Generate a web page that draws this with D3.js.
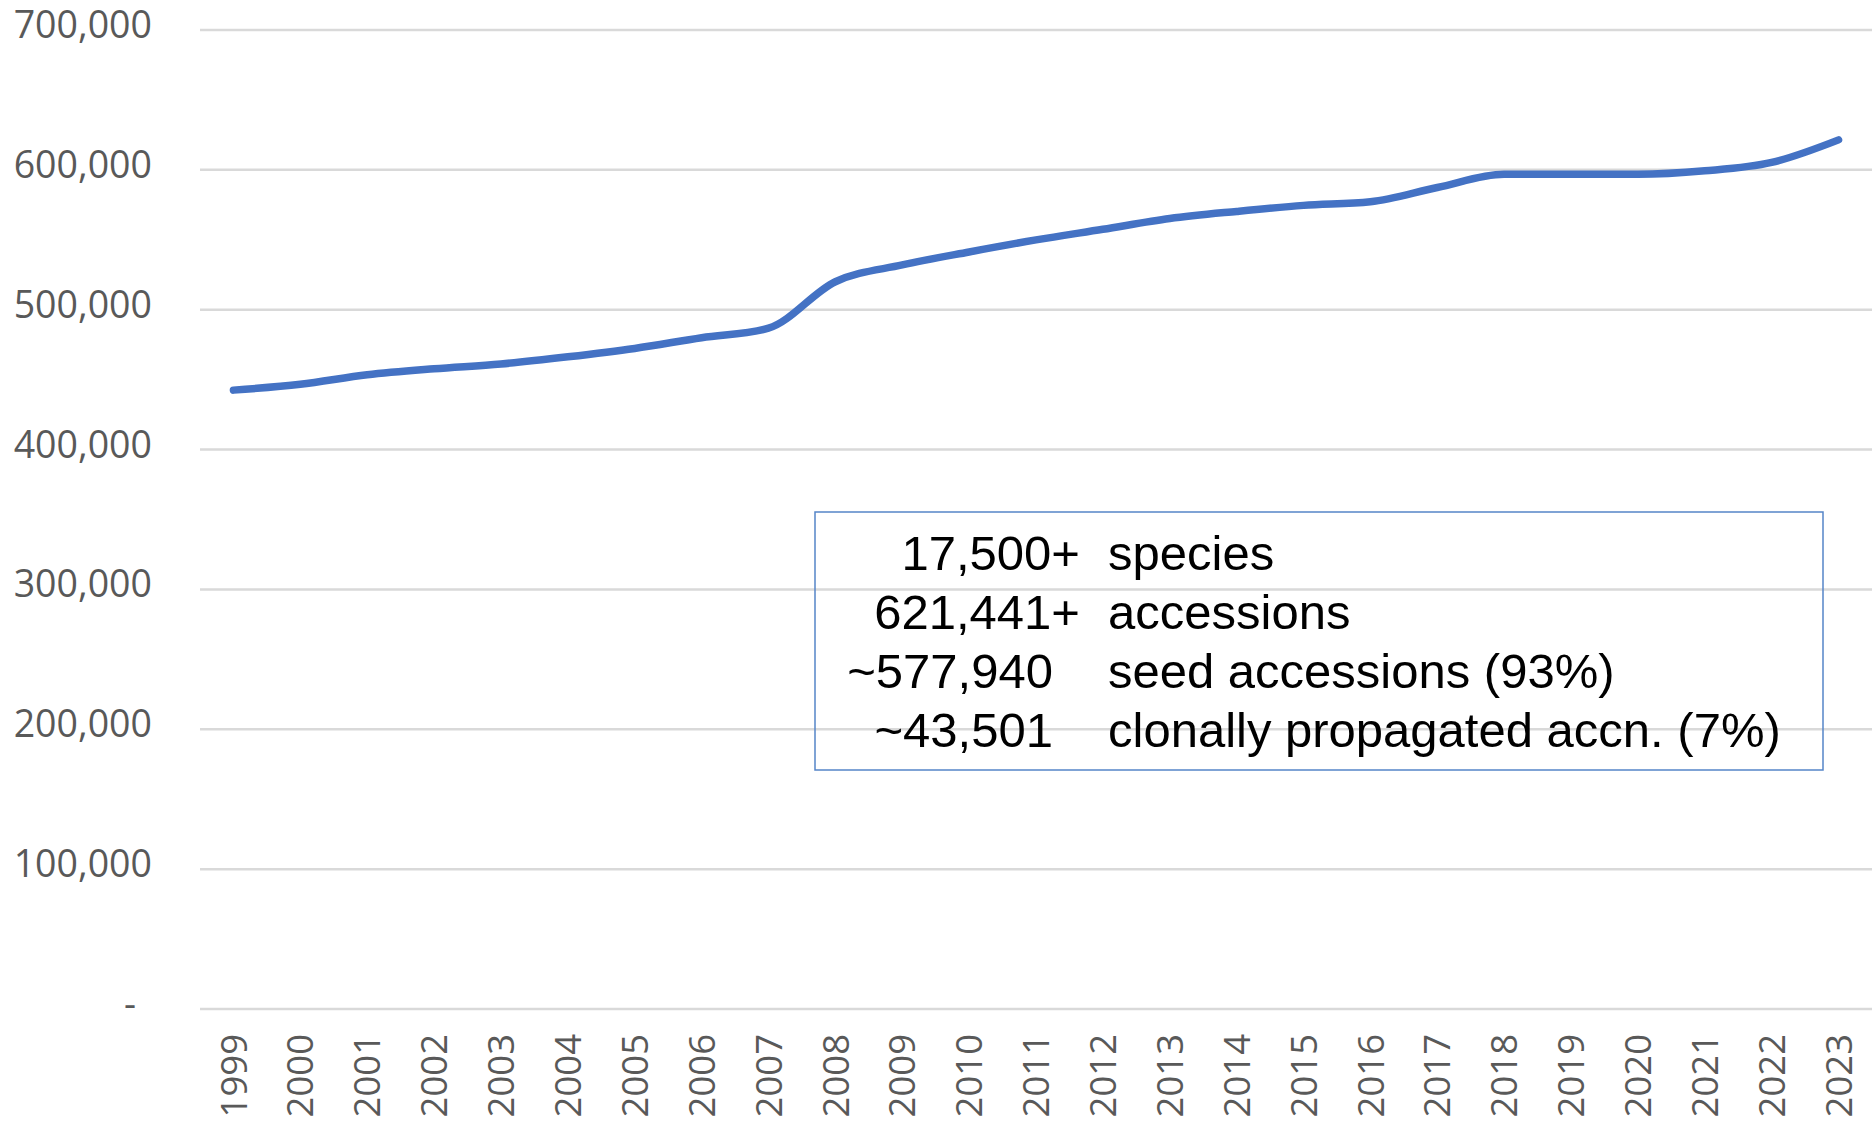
<!DOCTYPE html>
<html>
<head>
<meta charset="utf-8">
<script src="https://cdn.jsdelivr.net/npm/d3@7"></script>
<style>
  html, body { margin: 0; padding: 0; background: #ffffff; }
  svg { display: block; }
</style>
</head>
<body>
<svg id="chart" width="1872" height="1124"></svg>
<script>
// ---- data ----
const years = ["1999","2000","2001","2002","2003","2004","2005","2006","2007","2008","2009","2010","2011","2012","2013","2014","2015","2016","2017","2018","2019","2020","2021","2022","2023"];
const accessions = [442500, 446700, 453500, 457800, 461200, 466300, 472300, 480000, 486800, 520000, 532000, 541300, 549900, 557500, 565200, 570300, 574600, 577200, 587400, 596800, 596800, 596800, 599300, 605300, 621441];
const yTicks = [0, 100000, 200000, 300000, 400000, 500000, 600000, 700000];
const statNumbers = ["17,500+", "621,441+", "~577,940", "~43,501"];
const statLabels = ["species", "accessions", "seed accessions (93%)", "clonally propagated accn. (7%)"];

// ---- layout ----
const plot = { left: 200, right: 1872, top: 30, bottom: 1009 };
const svg = d3.select("#chart");

const x = d3.scaleBand().domain(years).range([plot.left, plot.right]).padding(0);
const xc = d => x(d) + x.bandwidth() / 2;
const y = d3.scaleLinear().domain([0, 700000]).range([plot.bottom, plot.top]);

// gridlines
svg.append("g").selectAll("line").data(yTicks).join("line")
  .attr("x1", plot.left).attr("x2", plot.right)
  .attr("y1", d => y(d)).attr("y2", d => y(d))
  .attr("stroke", "#d9d9d9").attr("stroke-width", 2.5);

// y axis labels
const fmt = d => d === 0 ? "-" : d3.format(",")(d);
const yAxis = d3.axisLeft(y).tickValues(yTicks).tickFormat(fmt).tickSize(0).tickPadding(0);
const gy = svg.append("g").attr("transform", "translate(152,0)").call(yAxis);
gy.select(".domain").remove();
gy.selectAll("text")
  .attr("font-family", "'Open Sans', sans-serif")
  .attr("font-size", 37.5)
  .attr("fill", "#595959")
  .attr("dy", "0.2em")
  .attr("dx", d => d === 0 ? -16 : 0);

// x axis labels
const xAxis = d3.axisBottom(x).tickSize(0).tickPadding(0);
const gx = svg.append("g").attr("transform", `translate(0,${plot.bottom})`).call(xAxis);
gx.select(".domain").remove();
gx.selectAll("text")
  .attr("font-family", "'Open Sans', sans-serif")
  .attr("font-size", 36.5)
  .attr("fill", "#595959")
  .attr("transform", "rotate(-90)")
  .attr("text-anchor", "end")
  .attr("x", -25)
  .attr("y", 0)
  .attr("dy", "0.36em");

// line
const line = d3.line()
  .x((d, i) => xc(years[i]))
  .y(d => y(d))
  .curve(d3.curveMonotoneX);
svg.append("path")
  .datum(accessions)
  .attr("d", line)
  .attr("fill", "none")
  .attr("stroke", "#4472c4")
  .attr("stroke-width", 7.5)
  .attr("stroke-linejoin", "round")
  .attr("stroke-linecap", "round");

// stats box
const box = { x: 815, y: 512, w: 1008, h: 258 };
svg.append("rect")
  .attr("x", box.x).attr("y", box.y).attr("width", box.w).attr("height", box.h)
  .attr("fill", "none").attr("stroke", "#5585c8").attr("stroke-width", 1.5);

const rowBase = 570, rowStep = 59;
const numRight = [1080, 1080, 1053, 1053];
const tg = svg.append("g")
  .attr("font-family", "'Liberation Sans', Arial, sans-serif")
  .attr("font-size", 49)
  .attr("fill", "#000000");
tg.selectAll("text.num").data(statNumbers).join("text")
  .attr("class", "num")
  .attr("x", (d, i) => numRight[i])
  .attr("y", (d, i) => rowBase + i * rowStep)
  .attr("text-anchor", "end")
  .text(d => d);
tg.selectAll("text.lab").data(statLabels).join("text")
  .attr("class", "lab")
  .attr("x", 1108)
  .attr("y", (d, i) => rowBase + i * rowStep)
  .text(d => d);
</script>
</body>
</html>
